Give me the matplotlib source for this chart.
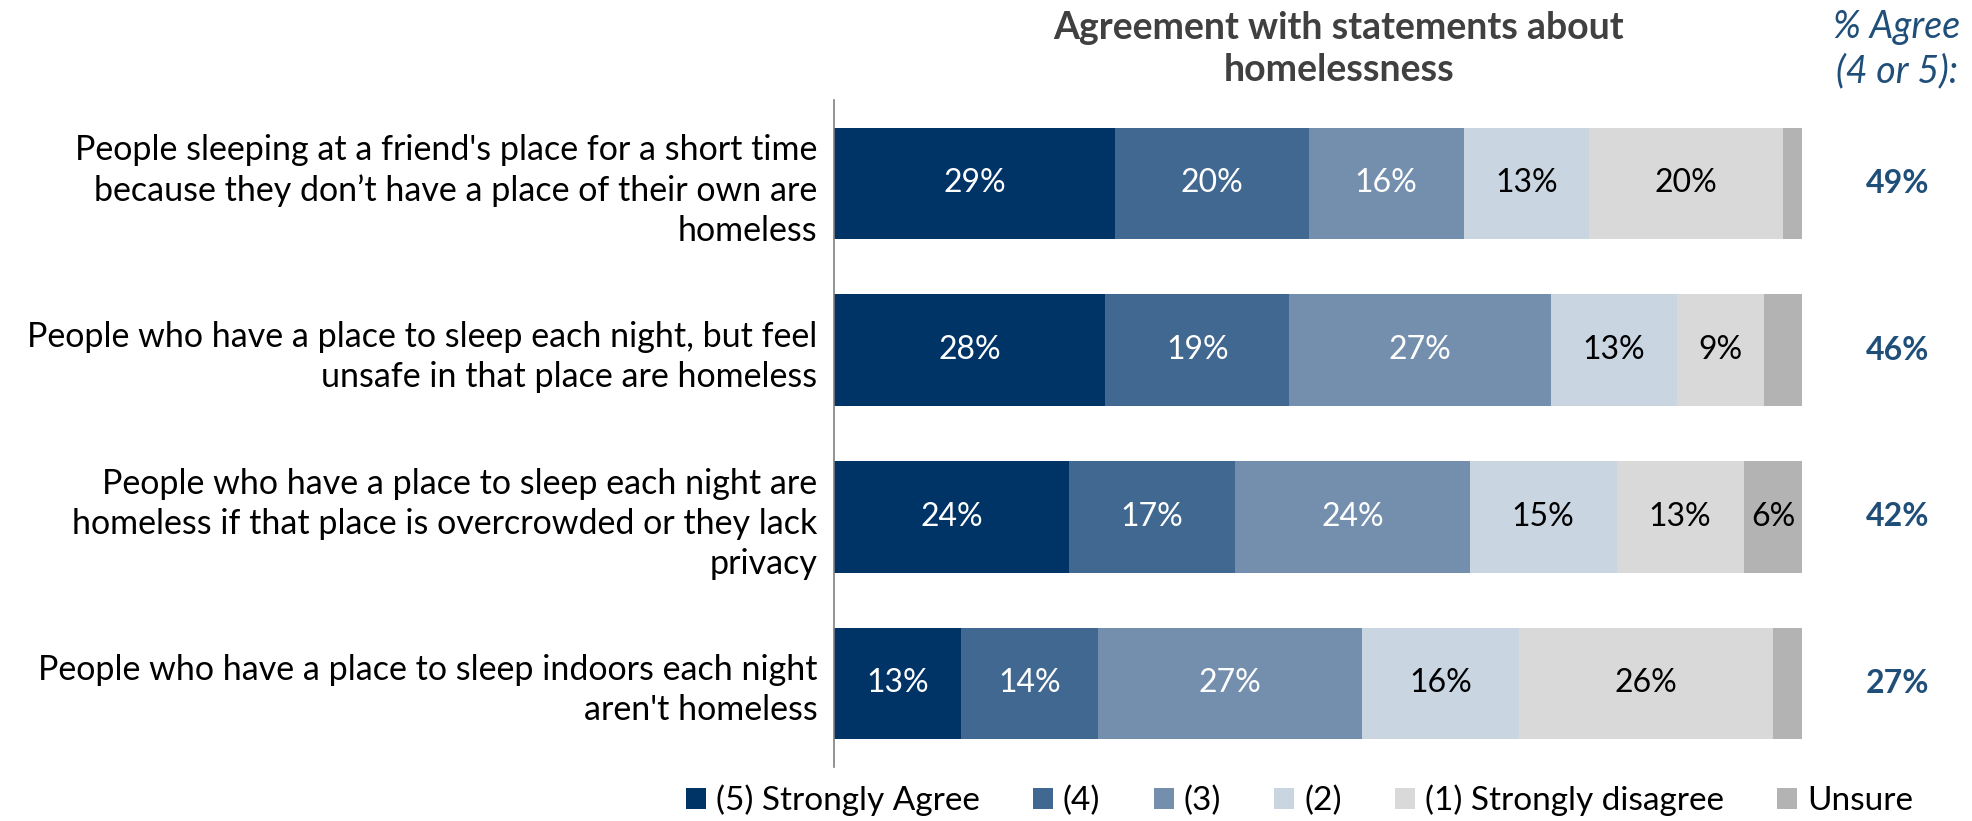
import matplotlib.pyplot as plt
import numpy as np

plt.rcParams["font.family"] = ["Lato", "DejaVu Sans"]

statements = [
    "People sleeping at a friend's place for a short time\nbecause they don\u2019t have a place of their own are\nhomeless",
    "People who have a place to sleep each night, but feel\nunsafe in that place are homeless",
    "People who have a place to sleep each night are\nhomeless if that place is overcrowded or they lack\nprivacy",
    "People who have a place to sleep indoors each night\naren't homeless",
]
categories = ["(5) Strongly Agree", "(4)", "(3)", "(2)", "(1) Strongly disagree", "Unsure"]
strongly_agree = [29, 28, 24, 13]
agree = [20, 19, 17, 14]
neutral = [16, 27, 24, 27]
disagree = [13, 13, 15, 16]
strongly_disagree = [20, 9, 13, 26]
unsure = [2, 4, 6, 3]
pct_agree = [49, 46, 42, 27]

colors = ["#003366", "#416890", "#738FAD", "#C9D6E2", "#D9D9D9", "#B3B3B3"]
text_colors = ["white", "white", "white", "black", "black", "black"]
show_min = 5  # smaller segments stay unlabelled

series = np.array([strongly_agree, agree, neutral, disagree, strongly_disagree, unsure], dtype=float)
totals = series.sum(axis=0)
widths = series / totals * 100

fig = plt.figure(figsize=(19.72, 8.21), dpi=100)
ax = fig.add_axes([0.423, 0.066, 0.491, 0.812])

y = np.arange(len(statements))
left = np.zeros(len(statements))
for i, cat in enumerate(categories):
    ax.barh(y, widths[i], left=left, height=0.67, color=colors[i], label=cat)
    for j in range(len(statements)):
        if i == len(categories) - 1 and series[i, j] < show_min:
            continue
        ax.text(left[j] + widths[i, j] / 2, y[j], f"{int(series[i, j])}%",
                ha="center", va="center", fontsize=23, color=text_colors[i])
    left += widths[i]

ax.set_xlim(0, 100)
ax.set_ylim(len(statements) - 0.5, -0.5)
ax.set_xticks([])
ax.set_yticks(y)
ax.set_yticklabels(statements, fontsize=24.5, linespacing=1.3)
ax.tick_params(axis="y", length=0, pad=12)
for side in ["top", "right", "bottom"]:
    ax.spines[side].set_visible(False)
ax.spines["left"].set_color("#808080")
ax.spines["left"].set_linewidth(1.2)

for j, val in enumerate(pct_agree):
    ax.text(1.098, y[j], f"{val}%", transform=ax.get_yaxis_transform(),
            ha="center", va="center", fontsize=23, fontweight="bold", color="#1F4E79")

fig.text(0.679, 0.94, "Agreement with statements about\nhomelessness", ha="center", va="center",
         fontsize=27, fontweight="bold", color="#404040", linespacing=1.3)
fig.text(0.962, 0.94, "% Agree\n(4 or 5):", ha="center", va="center",
         fontsize=27, style="italic", color="#1F4E79", linespacing=1.3)

fig.legend(loc="center", bbox_to_anchor=(0.659, 0.025), ncol=6, frameon=False,
           fontsize=24, handlelength=0.6, handleheight=0.6, handletextpad=0.3, columnspacing=1.6)

fig.savefig("out.png", dpi=100)
